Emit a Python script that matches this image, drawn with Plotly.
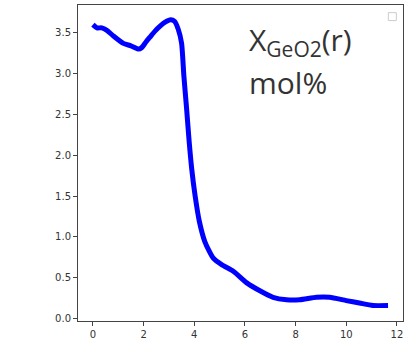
import plotly.graph_objects as go

# radial profile of GeO2 concentration
r = [0.0, 0.16, 0.35, 0.55, 0.81, 1.2, 1.5, 1.8, 1.93, 2.1, 2.26, 2.45, 2.65, 2.85, 3.07,
     3.22, 3.37, 3.5, 3.59, 3.7, 3.8, 3.9, 4.03, 4.2, 4.42, 4.75, 5.08, 5.54, 6.06, 6.59,
     7.11, 7.64, 8.16, 8.82, 9.34, 10.0, 10.52, 11.05, 11.65]
x_geo2 = [3.6, 3.56, 3.56, 3.53, 3.46, 3.37, 3.34, 3.30, 3.32, 3.39, 3.45, 3.52, 3.58, 3.63, 3.66,
          3.64, 3.54, 3.37, 2.97, 2.56, 2.16, 1.83, 1.51, 1.19, 0.94, 0.74, 0.66, 0.58, 0.44, 0.34,
          0.26, 0.23, 0.23, 0.26, 0.26, 0.22, 0.19, 0.16, 0.16]

x_ticks = [0, 2, 4, 6, 8, 10, 12]
y_ticks = [0.0, 0.5, 1.0, 1.5, 2.0, 2.5, 3.0, 3.5]
y_tick_text = ["0.0", "0.5", "1.0", "1.5", "2.0", "2.5", "3.0", "3.5"]

fig = go.Figure()
fig.add_trace(go.Scatter(
    x=r, y=x_geo2, mode="lines",
    line=dict(color="#0000ff", width=5, shape="spline", smoothing=0.6),
    showlegend=False, hoverinfo="skip",
))

axis_common = dict(
    showline=True, linecolor="#444", linewidth=1, mirror=True,
    ticks="outside", ticklen=4, tickwidth=1, tickcolor="#444",
    showgrid=False, zeroline=False,
    tickfont=dict(family="DejaVu Sans", size=10, color="#333"),
)

fig.update_layout(
    width=406, height=342,
    margin=dict(l=78, r=2, t=5, b=19),
    paper_bgcolor="white", plot_bgcolor="white",
    xaxis=dict(range=[-0.59, 12.24], tickvals=x_ticks, **axis_common),
    yaxis=dict(range=[-0.03, 3.84], tickvals=y_ticks, ticktext=y_tick_text, **axis_common),
)

label_font = dict(family="Open Sans", size=30, color="#333")
fig.add_annotation(
    xref="paper", yref="paper", x=0.52, y=0.963, xanchor="left", yanchor="top",
    text="X<sub>GeO2</sub>(r)", showarrow=False, font=label_font,
)
fig.add_annotation(
    xref="paper", yref="paper", x=0.52, y=0.827, xanchor="left", yanchor="top",
    text="mol%", showarrow=False, font=label_font,
)

# empty legend frame in the corner
fig.add_shape(
    type="rect", xref="paper", yref="paper",
    x0=(389 - 78) / 325.7, x1=(397 - 78) / 325.7,
    y0=1 - (21 - 5.3) / 318, y1=1 - (13 - 5.3) / 318,
    line=dict(color="#ccc", width=1), fillcolor="white",
)

fig.write_html("out.html")
